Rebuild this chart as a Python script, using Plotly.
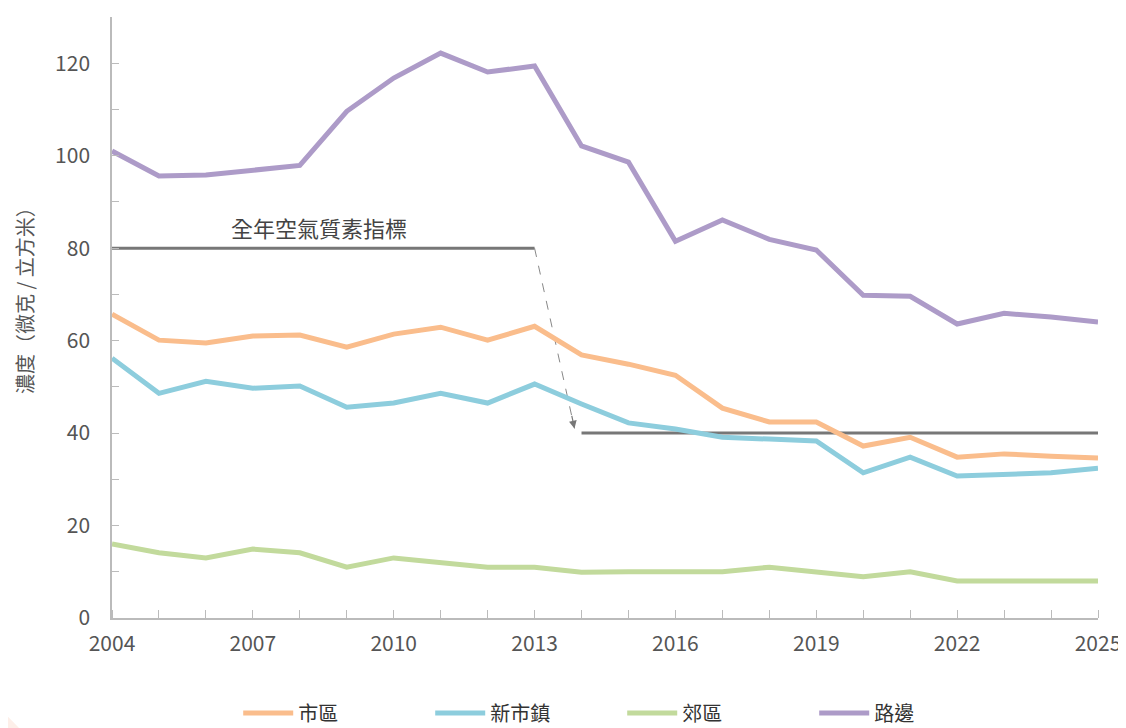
import plotly.graph_objects as go

years = list(range(2004, 2026))
urban = [65.7, 60.1, 59.5, 61.0, 61.2, 58.6, 61.4, 62.9, 60.1, 63.1, 56.9, 54.9, 52.5, 45.4,
         42.4, 42.4, 37.2, 39.1, 34.8, 35.5, 35.0, 34.6]
newtown = [56.2, 48.6, 51.2, 49.7, 50.2, 45.6, 46.5, 48.6, 46.5, 50.6, 46.3, 42.2, 40.9, 39.1,
           38.7, 38.3, 31.4, 34.8, 30.7, 31.1, 31.4, 32.4]
rural = [16.0, 14.1, 13.0, 14.9, 14.1, 11.0, 13.0, 11.9, 11.0, 11.0, 9.9, 10.0, 10.0, 10.0,
         11.0, 10.0, 8.9, 10.0, 8.0, 8.0, 8.0, 8.0]
roadside = [101.0, 95.6, 95.8, 96.9, 97.9, 109.6, 116.8, 122.2, 118.1, 119.4, 102.1, 98.6, 81.5,
            86.1, 81.9, 79.6, 69.8, 69.6, 63.6, 65.9, 65.1, 64.0]

series_names = ["市區", "新市鎮", "郊區", "路邊"]
series_colors = ["#FABD8C", "#8DCDDD", "#C2DA9C", "#AD9BC8"]

std_old_years = [2004, 2013]
std_old_values = [80, 80]
std_new_years = [2014, 2025]
std_new_values = [40, 40]
std_label = "全年空氣質素指標"
y_title = "濃度（微克 / 立方米）"
arrow_tip = (2013.85, 41.0)

x_tick_vals = list(range(2004, 2026, 3))
y_tick_vals = list(range(0, 121, 20))

FONT = "Noto Sans CJK TC, Noto Sans, sans-serif"

fig = go.Figure()

# standard lines
fig.add_trace(go.Scatter(x=std_old_years, y=std_old_values, mode="lines",
                         line=dict(color="#777777", width=3), showlegend=False, hoverinfo="skip"))
fig.add_trace(go.Scatter(x=std_new_years, y=std_new_values, mode="lines",
                         line=dict(color="#777777", width=3), showlegend=False, hoverinfo="skip"))
# dashed connector
fig.add_trace(go.Scatter(x=[std_old_years[-1], arrow_tip[0]],
                         y=[std_old_values[-1], arrow_tip[1]], mode="lines",
                         line=dict(color="#888888", width=1, dash="dash"),
                         showlegend=False, hoverinfo="skip"))

for name, vals, col in zip(series_names, [urban, newtown, rural, roadside], series_colors):
    fig.add_trace(go.Scatter(x=years, y=vals, mode="lines", name=name,
                             line=dict(color=col, width=5)))

fig.add_annotation(x=arrow_tip[0], y=arrow_tip[1], ax=-3, ay=-14,
                   xref="x", yref="y", showarrow=True, arrowhead=2, arrowsize=1.3,
                   arrowwidth=1.2, arrowcolor="#777777", text="")
fig.add_annotation(x=(std_old_years[0] + std_old_years[1]) / 2 - 0.1, y=std_old_values[0],
                   yshift=21, text=std_label, showarrow=False,
                   font=dict(size=22, color="#444444", family=FONT))
# y-axis title
fig.add_annotation(x=-0.0885, y=0.537, xref="paper", yref="paper", text=y_title,
                   textangle=-90, showarrow=False, xanchor="center", yanchor="middle",
                   font=dict(size=20, color="#555555", family=FONT))

# faint corner decorations
fig.add_shape(type="path", xref="paper", yref="paper",
              path="M -0.12 -0.19 L -0.09 -0.19 L -0.12 -0.14 Z",
              fillcolor="#FDEFE9", line=dict(width=0), layer="below")
fig.add_shape(type="path", xref="paper", yref="paper",
              path="M 1.03 -0.20 L 1.05 -0.20 L 1.05 -0.13 Z",
              fillcolor="#FDEFE9", line=dict(width=0), layer="below")

fig.update_layout(
    width=1126, height=728,
    margin=dict(l=104, r=36, t=9, b=118, autoexpand=False),
    paper_bgcolor="white", plot_bgcolor="white",
    font=dict(family=FONT, color="#555555"),
    legend=dict(orientation="h", x=0.128, xanchor="left", y=-0.158, yanchor="middle",
                font=dict(size=20, color="#333333", family=FONT),
                itemwidth=50, entrywidth=127, entrywidthmode="pixels"),
    xaxis=dict(range=[2004, 2025], showgrid=False, zeroline=False,
               showline=True, linecolor="#BBBBBB", linewidth=1.5,
               tickmode="array", tickvals=x_tick_vals, ticks="",
               tickfont=dict(size=21, color="#555555"), ticklabelstandoff=6,
               minor=dict(dtick=1, tick0=2004, ticks="inside", ticklen=8, tickcolor="#BBBBBB")),
    yaxis=dict(range=[0, 130], showgrid=False, zeroline=False,
               showline=True, linecolor="#BBBBBB", linewidth=1.5,
               tickmode="array", tickvals=y_tick_vals, ticks="inside", ticklen=7,
               tickcolor="#BBBBBB", tickfont=dict(size=21, color="#555555"),
               ticklabelstandoff=16,
               minor=dict(dtick=10, ticks="inside", ticklen=7, tickcolor="#BBBBBB")),
)

fig.write_html("out.html")
